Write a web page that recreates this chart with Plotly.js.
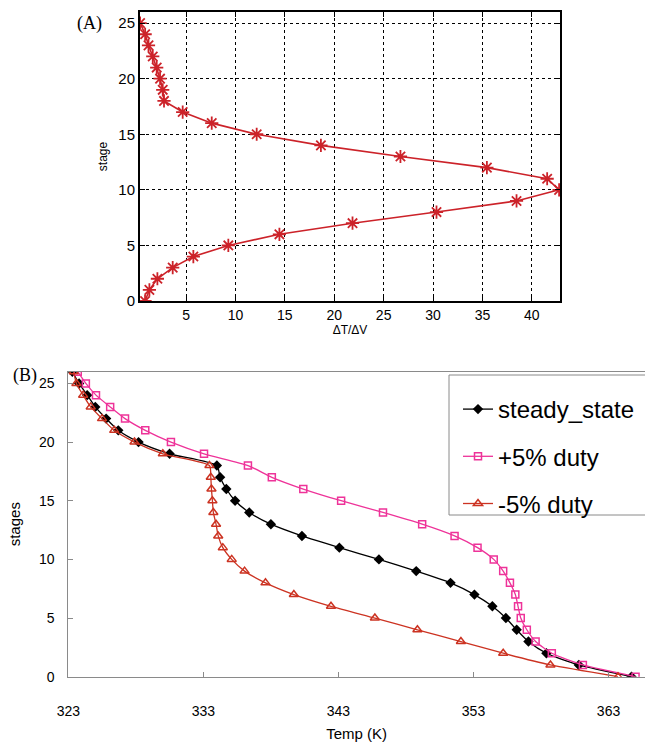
<!DOCTYPE html>
<html>
<head>
<meta charset="utf-8">
<script src="https://cdn.plot.ly/plotly-3.0.1.min.js"></script>
<style>
  html, body { margin: 0; padding: 0; background: #ffffff; }
  #chart { width: 645px; height: 742px; }
</style>
</head>
<body>
<div id="chart"></div>
<script>
// (A) temperature sensitivity per stage
const stagesA = [0, 1, 2, 3, 4, 5, 6, 7, 8, 9, 10, 11, 12, 13, 14, 15, 16, 17, 18, 19, 20, 21, 22, 23, 24, 25];
const dTdV = [0.85, 1.29, 2.1, 3.65, 5.74, 9.28, 14.45, 21.85, 30.35, 38.45, 42.76, 41.55, 35.45, 26.7,
              18.65, 12.15, 7.6, 4.66, 2.77, 2.64, 2.37, 2.03, 1.63, 1.2, 0.86, 0.35];
const ticksA_x = [5, 10, 15, 20, 25, 30, 35, 40];
const ticksA_y = [0, 5, 10, 15, 20, 25];

// (B) column temperature profiles
const stagesB = [26, 25, 24, 23, 22, 21, 20, 19, 18, 17, 16, 15, 14, 13, 12, 11, 10, 9, 8, 7, 6, 5, 4, 3, 2, 1, 0];
const steadyState = [323.3, 323.8, 324.4, 325.0, 325.8, 326.7, 328.2, 330.5, 334.0, 334.24, 334.7, 335.35, 336.4,
                     338.0, 340.3, 343.07, 346.0, 348.76, 351.3, 353.07, 354.4, 355.4, 356.2, 357.07, 358.4, 360.8, 364.7];
const plus5Duty = [323.7, 324.3, 325.05, 326.1, 327.2, 328.7, 330.6, 333.05, 336.3, 338.07, 340.4, 343.2, 346.3,
                   349.2, 351.6, 353.3, 354.5, 355.2, 355.7, 356.1, 356.3, 356.5, 356.95, 357.6, 358.8, 361.1, 365.0];
const minus5Duty = [323.4, 323.6, 324.1, 324.66, 325.5, 326.4, 327.9, 330.0, 333.45, 333.55, 333.6, 333.67, 333.74,
                    333.94, 334.1, 334.44, 335.1, 336.05, 337.6, 339.7, 342.45, 345.7, 348.85, 352.07, 355.2, 358.7, 363.7];
const seriesNames = ['steady_state', '+5% duty', '-5% duty'];
const ticksB_x = [323, 333, 343, 353, 363];
const ticksB_y = [0, 5, 10, 15, 20, 25];

const W = 645, H = 742;
const px = v => v / W;
const py = v => 1 - v / H;

const sans = 'Liberation Sans, Arial, sans-serif';
const serif = 'Liberation Serif, Times New Roman, serif';

const traces = [
  {
    x: dTdV, y: stagesA, xaxis: 'x', yaxis: 'y',
    type: 'scatter', mode: 'lines+markers', showlegend: false,
    line: { color: '#cc2229', width: 1.6 },
    marker: { symbol: 'asterisk-open', size: 11, color: '#cc2229', line: { color: '#cc2229', width: 1.8 } }
  },
  {
    x: steadyState, y: stagesB, xaxis: 'x2', yaxis: 'y2', name: seriesNames[0], legendgroup: 'a',
    type: 'scatter', mode: 'lines+markers',
    line: { color: '#000000', width: 1.3, shape: 'spline', smoothing: 0.6 },
    marker: { symbol: 'diamond', size: 8, color: '#000000' }
  },
  {
    x: plus5Duty, y: stagesB, xaxis: 'x2', yaxis: 'y2', name: seriesNames[1], legendgroup: 'b',
    type: 'scatter', mode: 'lines+markers',
    line: { color: '#ee3399', width: 1.3, shape: 'spline', smoothing: 0.6 },
    marker: { symbol: 'square-open', size: 7, color: '#ee3399', line: { color: '#ee3399', width: 1.5 } }
  },
  {
    x: minus5Duty, y: stagesB, xaxis: 'x2', yaxis: 'y2', name: seriesNames[2], legendgroup: 'c',
    type: 'scatter', mode: 'lines+markers',
    line: { color: '#cc3322', width: 1.3, shape: 'spline', smoothing: 0.6 },
    marker: { symbol: 'triangle-up-open', size: 8, color: '#cc3322', line: { color: '#cc3322', width: 1.5 } }
  }
];

const layout = {
  width: W, height: H,
  margin: { l: 0, r: 0, t: 0, b: 0 },
  paper_bgcolor: '#ffffff', plot_bgcolor: '#ffffff',
  font: { family: sans, color: '#000000' },
  showlegend: true,
  legend: {
    x: px(458), y: py(387), xanchor: 'left', yanchor: 'top',
    bgcolor: 'rgba(0,0,0,0)', borderwidth: 0,
    font: { family: sans, size: 24, color: '#000000' },
    tracegroupgap: 13, traceorder: 'grouped'
  },
  shapes: [
    // legend frame
    { type: 'rect', xref: 'paper', yref: 'paper', layer: 'below',
      x0: px(449), x1: 1.05, y0: py(515), y1: py(375),
      line: { color: '#8a8a8a', width: 1 }, fillcolor: '#ffffff' }
  ],
  xaxis: {
    domain: [px(140), px(560)], anchor: 'y',
    range: [0.34, 42.85], tickvals: ticksA_x, ticktext: ticksA_x.map(String),
    showline: true, linecolor: '#000000', linewidth: 2, mirror: 'ticks',
    ticks: 'inside', ticklen: 5, tickcolor: '#000000',
    showgrid: true, gridcolor: '#000000', gridwidth: 1, griddash: 'dot',
    zeroline: false, ticklabelstandoff: 0,
    tickfont: { family: sans, size: 14 },
    title: { text: 'ΔT/ΔV', font: { family: sans, size: 12 }, standoff: 2 }
  },
  yaxis: {
    domain: [py(301), py(12)], anchor: 'x',
    range: [0, 26], tickvals: ticksA_y, ticktext: ticksA_y.map(String),
    showline: true, linecolor: '#000000', linewidth: 2, mirror: 'ticks',
    ticks: 'inside', ticklen: 5, tickcolor: '#000000',
    showgrid: true, gridcolor: '#000000', gridwidth: 1, griddash: 'dot',
    zeroline: false, ticklabelstandoff: 0,
    tickfont: { family: sans, size: 15 },
    title: { text: 'stage', font: { family: sans, size: 12 }, standoff: 8 }
  },
  xaxis2: {
    domain: [px(68.3), 1], anchor: 'y2',
    range: [323, 365.7], tickvals: ticksB_x, ticktext: ticksB_x.map(String),
    showline: true, linecolor: '#8a8a8a', linewidth: 1, mirror: true,
    ticks: 'inside', ticklen: 5, tickcolor: '#8a8a8a',
    showgrid: false, zeroline: false, ticklabelstandoff: 21,
    tickfont: { family: sans, size: 14 },
    title: { text: 'Temp (K)', font: { family: sans, size: 15 }, standoff: 12 }
  },
  yaxis2: {
    domain: [py(676.7), py(371.7)], anchor: 'x2',
    range: [0, 26], tickvals: ticksB_y, ticktext: ticksB_y.map(String),
    showline: true, linecolor: '#8a8a8a', linewidth: 1, mirror: false,
    ticks: 'inside', ticklen: 5, tickcolor: '#8a8a8a',
    showgrid: false, zeroline: false, ticklabelstandoff: 10,
    tickfont: { family: sans, size: 14 },
    title: { text: 'stages', font: { family: sans, size: 15 }, standoff: 14 }
  },
  annotations: [
    { text: '(A)', xref: 'paper', yref: 'paper', x: px(89), y: py(23), xanchor: 'center', yanchor: 'middle',
      showarrow: false, font: { family: serif, size: 18, color: '#000000' } },
    { text: '(B)', xref: 'paper', yref: 'paper', x: px(25), y: py(375), xanchor: 'center', yanchor: 'middle',
      showarrow: false, font: { family: serif, size: 18, color: '#000000' } }
  ]
};

Plotly.newPlot('chart', traces, layout, { staticPlot: true, displayModeBar: false });
</script>
</body>
</html>
